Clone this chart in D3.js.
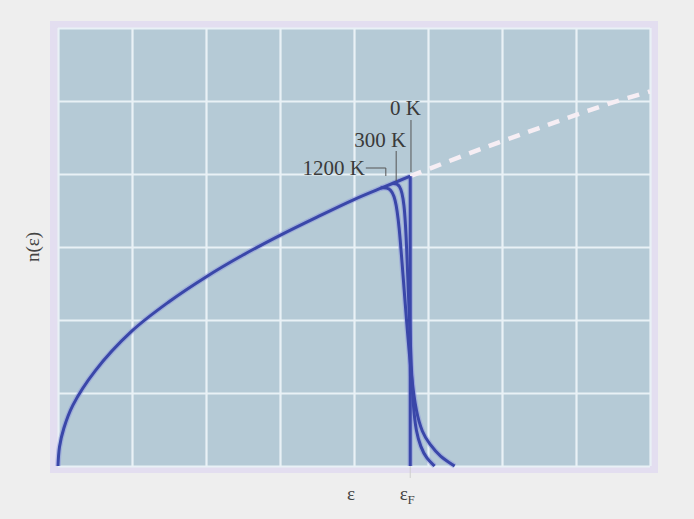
<!DOCTYPE html>
<html>
<head>
<meta charset="utf-8">
<script src="https://cdn.jsdelivr.net/npm/d3@7"></script>
<style>
  body { margin: 0; background: #eeeeee; }
  svg { display: block; }
</style>
</head>
<body>
<div id="chart"></div>
<script>
// density of states n(e), in grid units
const mainEps = [0, 0.02, 0.08, 0.2, 0.5, 1.0, 1.5, 2.0, 2.5, 3.0, 3.5, 4.0, 4.4, 4.76];
const mainN   = [0, 0.26, 0.52, 0.83, 1.30, 1.85, 2.25, 2.59, 2.89, 3.16, 3.41, 3.65, 3.82, 3.97];

// continuation past the Fermi level (dashed)
const extEps = [4.76, 5.5, 6.03, 6.5, 7.0, 7.5, 8.0];
const extN   = [3.97, 4.26, 4.46, 4.63, 4.81, 4.98, 5.13];

// occupied states at each temperature near the Fermi edge
const t0Eps    = [4.76, 4.76];
const t0N      = [3.97, 0];
const t300Eps  = [4.52, 4.62, 4.68, 4.71, 4.74, 4.77, 4.80, 4.84, 4.90, 4.98, 5.09];
const t300N    = [3.87, 3.87, 3.62, 3.05, 2.25, 1.45, 0.80, 0.47, 0.26, 0.10, 0.0];
const t1200Eps = [4.36, 4.48, 4.56, 4.61, 4.66, 4.72, 4.78, 4.84, 4.92, 5.02, 5.16, 5.36];
const t1200N   = [3.81, 3.82, 3.68, 3.30, 2.65, 1.85, 1.18, 0.74, 0.46, 0.30, 0.13, 0.0];

const tempLabels = ["0 K", "300 K", "1200 K"];
const tempLeaderEps = [4.77, 4.57, 4.43];

const xTickValues = [4, 4.76];
const xTickLabels = ["ε", "ε"];
const xTickSubs = ["", "F"];

const width = 694, height = 519;
const margin = {left: 58, top: 28, right: 44, bottom: 53};

const x = d3.scaleLinear().domain([0, 8]).range([margin.left, width - margin.right]);
const y = d3.scaleLinear().domain([0, 6]).range([height - margin.bottom, margin.top]);

const svg = d3.select("#chart").append("svg")
    .attr("width", width)
    .attr("height", height);

// lavender frame round the plot
svg.append("rect")
    .attr("x", x(0) - 8).attr("y", y(6) - 7)
    .attr("width", x(8) - x(0) + 16).attr("height", y(0) - y(6) + 14)
    .style("fill", "#e3def0");

svg.append("rect")
    .attr("x", x(0)).attr("y", y(6))
    .attr("width", x(8) - x(0)).attr("height", y(0) - y(6))
    .style("fill", "#b5cad6");

// grid
const gx = svg.append("g")
    .attr("transform", `translate(0,${y(0)})`)
    .call(d3.axisBottom(x).ticks(8).tickSize(-(y(0) - y(6))).tickFormat(""));
const gy = svg.append("g")
    .attr("transform", `translate(${x(0)},0)`)
    .call(d3.axisLeft(y).ticks(6).tickSize(-(x(8) - x(0))).tickFormat(""));
[gx, gy].forEach(g => {
    g.select(".domain").remove();
    g.selectAll("line").style("stroke", "#e9f1f6").style("stroke-width", 2.2);
});

const zip = (a, b) => a.map((d, i) => [d, b[i]]);
const smooth = d3.line().x(d => x(d[0])).y(d => y(d[1])).curve(d3.curveCatmullRom.alpha(0.5));
const soft = d3.line().x(d => x(d[0])).y(d => y(d[1])).curve(d3.curveBasis);

// dashed continuation
svg.append("path")
    .datum(zip(extEps, extN))
    .attr("d", smooth)
    .style("fill", "none")
    .style("stroke", "#f6eef4")
    .style("stroke-width", 4.5)
    .style("stroke-dasharray", "12,9");

const blue = "#3a47a9";
const curves = [
    {pts: zip(mainEps, mainN), gen: smooth},
    {pts: zip(t1200Eps, t1200N), gen: soft},
    {pts: zip(t300Eps, t300N), gen: soft},
    {pts: zip(t0Eps, t0N), gen: d3.line().x(d => x(d[0])).y(d => y(d[1]))}
];

// soft halo then the curves
curves.forEach(c => {
    svg.append("path").datum(c.pts).attr("d", c.gen)
        .style("fill", "none").style("stroke", "#8791dd").style("stroke-width", 5.5).style("opacity", 0.45);
});
curves.forEach(c => {
    svg.append("path").datum(c.pts).attr("d", c.gen)
        .style("fill", "none").style("stroke", blue).style("stroke-width", 3);
});

// temperature labels with leader lines
const lab = svg.append("g")
    .style("font-family", "'Liberation Serif', 'DejaVu Serif', serif")
    .style("font-size", "21px")
    .style("fill", "#3a3a3a");

const lx0 = x(tempLeaderEps[0]), lx1 = x(tempLeaderEps[1]), lx2 = x(tempLeaderEps[2]);
lab.append("text").attr("x", lx0 + 10).attr("y", 115).attr("text-anchor", "end").text(tempLabels[0]);
lab.append("text").attr("x", lx1 + 10).attr("y", 147).attr("text-anchor", "end").text(tempLabels[1]);
lab.append("text").attr("x", lx2 - 21).attr("y", 175).attr("text-anchor", "end").text(tempLabels[2]);

const lead = svg.append("g").style("stroke", "#555").style("stroke-width", 1).style("fill", "none");
lead.append("line").attr("x1", lx0).attr("x2", lx0).attr("y1", 120).attr("y2", 172);
lead.append("line").attr("x1", lx1).attr("x2", lx1).attr("y1", 151).attr("y2", 181);
lead.append("path").attr("d", `M${lx2 - 20},168H${lx2}V176`);

// axis labels
const axl = svg.append("g")
    .style("font-family", "'Liberation Serif', 'DejaVu Serif', serif")
    .style("fill", "#444");

xTickValues.forEach((v, i) => {
    const t = axl.append("text")
        .attr("x", x(v) - 3)
        .attr("y", 500)
        .attr("text-anchor", "middle")
        .style("font-size", "19px")
        .text(xTickLabels[i]);
    if (xTickSubs[i]) {
        t.append("tspan").attr("dy", 4).style("font-size", "13px").text(xTickSubs[i]);
    }
});
svg.append("line")
    .attr("x1", x(xTickValues[1])).attr("x2", x(xTickValues[1]))
    .attr("y1", y(0)).attr("y2", y(0) + 12)
    .style("stroke", "#cfcfcf").style("stroke-width", 1);

axl.append("text")
    .attr("transform", `translate(39,${(y(0) + y(6)) / 2}) rotate(-90)`)
    .attr("text-anchor", "middle")
    .style("font-size", "19px")
    .text("n(ε)");
</script>
</body>
</html>
